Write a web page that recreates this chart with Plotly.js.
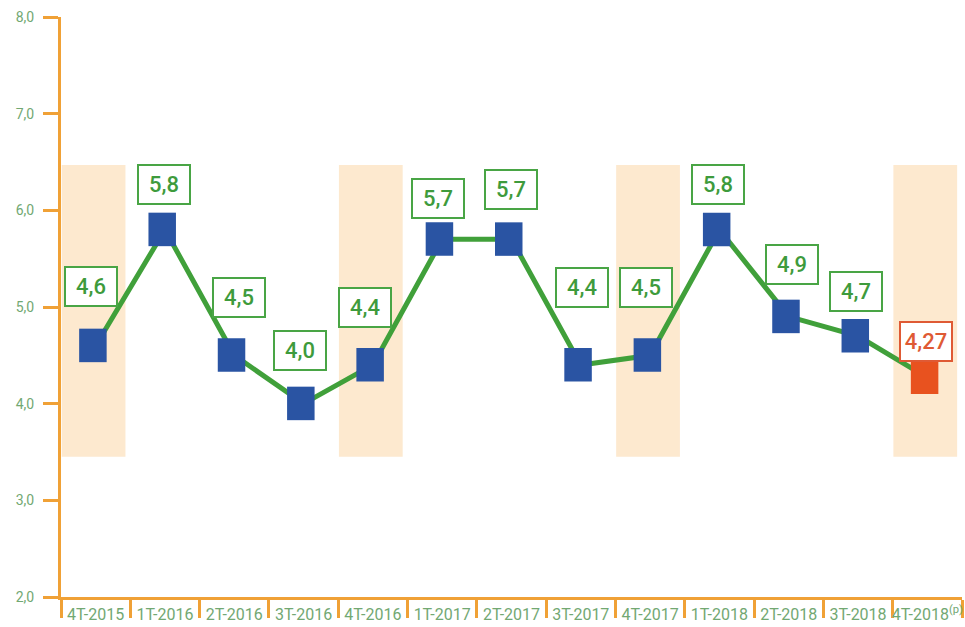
<!DOCTYPE html>
<html>
<head>
<meta charset="utf-8">
<script src="https://cdn.plot.ly/plotly-3.0.1.min.js"></script>
<style>
  html, body { margin: 0; padding: 0; background: #ffffff; }
  #chart { width: 965px; height: 627px; }
</style>
</head>
<body>
<div id="chart"></div>
<script>
// Quarterly series, 4th quarter 2015 to 4th quarter 2018 (last one provisional)
const quarters = ['4T-2015', '1T-2016', '2T-2016', '3T-2016', '4T-2016', '1T-2017', '2T-2017',
                  '3T-2017', '4T-2017', '1T-2018', '2T-2018', '3T-2018', '4T-2018'];
const tickLabels = ['4T-2015', '1T-2016', '2T-2016', '3T-2016', '4T-2016', '1T-2017', '2T-2017',
                    '3T-2017', '4T-2017', '1T-2018', '2T-2018', '3T-2018', '4T-2018<sup>(p)</sup>'];
const rates = [4.6, 5.8, 4.5, 4.0, 4.4, 5.7, 5.7, 4.4, 4.5, 5.8, 4.9, 4.7, 4.27];
const valueLabels = ['4,6', '5,8', '4,5', '4,0', '4,4', '5,7', '5,7', '4,4', '4,5', '5,8', '4,9', '4,7', '4,27'];
const provisional = [false, false, false, false, false, false, false, false, false, false, false, false, true];
const shadedQuarters = ['4T-2015', '4T-2016', '4T-2017', '4T-2018'];
const bandRange = [3.45, 6.47];

// Styling
const ORANGE = '#f0a136';
const AXIS_TEXT = '#72a872';
const LINE_GREEN = '#40a03a';
const BOX_GREEN = '#49a545';
const TEXT_GREEN = '#3e9b3c';
const BLUE = '#2a54a3';
const RED = '#e8521f';
const RED_TEXT = '#df5a34';
const BAND = '#fde9cf';

// Label box offsets from each point, in px [dx, dy]
const labelOffsets = [[-5, 59], [-1, 45], [5, 58], [-4, 53], [-8, 58], [-4, 41], [-1, 50],
                      [1, 78], [-4, 68], [-1, 45], [3, 52], [-2, 45], [-1, 36]];

const shapes = [];

// Shaded bands behind the fourth quarters
shadedQuarters.forEach(q => {
  const i = quarters.indexOf(q);
  shapes.push({
    type: 'rect', layer: 'below', xref: 'x', yref: 'y',
    x0: i - 0.49, x1: i + 0.43, y0: bandRange[0], y1: bandRange[1],
    fillcolor: BAND, line: { width: 0 }
  });
});

// Rectangular point markers, anchored on each value
rates.forEach((v, i) => {
  shapes.push({
    type: 'rect', layer: 'above', xref: 'x', yref: 'y',
    xsizemode: 'pixel', ysizemode: 'pixel',
    xanchor: i, yanchor: v,
    x0: -16.5, x1: 11, y0: -16.5, y1: 17,
    fillcolor: provisional[i] ? RED : BLUE, line: { width: 0 }
  });
});

const annotations = rates.map((v, i) => ({
  x: quarters[i], y: v, xref: 'x', yref: 'y',
  text: valueLabels[i], showarrow: false,
  xshift: labelOffsets[i][0], yshift: labelOffsets[i][1],
  width: 48, height: 35, borderpad: 1, borderwidth: 2,
  bordercolor: provisional[i] ? RED_TEXT : BOX_GREEN,
  bgcolor: '#ffffff',
  font: { family: 'Roboto, sans-serif', size: 22, weight: 500,
          color: provisional[i] ? RED_TEXT : TEXT_GREEN }
}));

const trace = {
  x: quarters, y: rates, type: 'scatter', mode: 'lines',
  line: { color: LINE_GREEN, width: 5 },
  hoverinfo: 'x+y', cliponaxis: false
};

const layout = {
  width: 965, height: 627,
  margin: { l: 61, r: 3, t: 17, b: 30 },
  paper_bgcolor: '#ffffff', plot_bgcolor: '#ffffff',
  showlegend: false,
  separators: ',.',
  font: { family: 'Roboto, sans-serif' },
  xaxis: {
    type: 'category', range: [-0.5, 12.5],
    tickvals: quarters, ticktext: tickLabels, tickangle: 0,
    showline: true, linecolor: ORANGE, linewidth: 3,
    ticks: 'outside', tickson: 'boundaries', ticklen: 18, tickwidth: 3, tickcolor: ORANGE,
    ticklabelstandoff: 1,
    tickfont: { family: 'Roboto, sans-serif', size: 16, color: AXIS_TEXT },
    showgrid: false, zeroline: false, fixedrange: true
  },
  yaxis: {
    range: [2, 8], dtick: 1, tick0: 2, tickformat: '.1f',
    showline: true, linecolor: ORANGE, linewidth: 3,
    ticks: 'outside', ticklen: 15, tickwidth: 3, tickcolor: ORANGE,
    ticklabelstandoff: 6,
    tickfont: { family: 'Roboto, sans-serif', size: 14, color: AXIS_TEXT },
    showgrid: false, zeroline: false, fixedrange: true
  },
  shapes: shapes,
  annotations: annotations
};

Plotly.newPlot('chart', [trace], layout, { displayModeBar: false, staticPlot: true });
</script>
</body>
</html>
